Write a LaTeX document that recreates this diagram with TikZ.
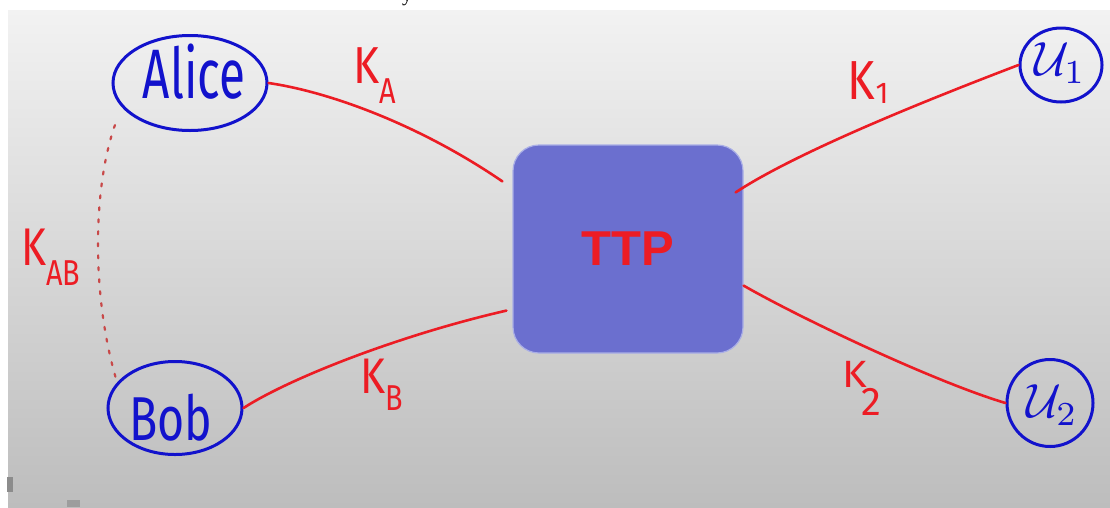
\documentclass[tikz,border=0pt]{standalone}
\usepackage{fontspec}
\setmainfont{Liberation Serif}
\newfontfamily\handfont{Fira Sans}
\newfontfamily\boxfont{Liberation Sans}
\usetikzlibrary{shapes.geometric,calc}

\definecolor{penblue}{HTML}{1212CC}
\definecolor{penred}{HTML}{EC1C24}
\definecolor{dotred}{HTML}{C84848}
\definecolor{ttpfill}{HTML}{6B6FCF}
\definecolor{ttpedge}{HTML}{A9AEE6}
\definecolor{slatetop}{HTML}{F2F2F2}
\definecolor{slatebottom}{HTML}{BDBDBD}
\definecolor{markgray}{HTML}{8C8C8C}

\begin{document}
\begin{tikzpicture}[x=1pt,y=-1pt,
  party/.style={ellipse, draw=penblue, line width=3pt, inner sep=0pt},
  partyname/.style={text=penblue, inner sep=0pt, anchor=base, font=\handfont},
  keyline/.style={draw=penred, line width=2.6pt, line cap=round},
  sharedkey/.style={draw=dotred, line width=2.2pt, line cap=round, dash pattern=on 3pt off 9pt},
  keylabel/.style={text=penred, inner sep=0pt, anchor=base west, font=\handfont},
  server/.style={rectangle, rounded corners=26pt, fill=ttpfill, draw=ttpedge, line width=1.2pt,
                 minimum width=230pt, minimum height=208pt, inner sep=0pt,
                 text=penred, font=\boxfont\bfseries\fontsize{49}{49}\selectfont}
]
\useasboundingbox (0,0) rectangle (1110,507);

% board background
\fill[white] (0,0) rectangle (1110,507);
\shade[top color=slatetop, bottom color=slatebottom] (8,10) rectangle (1110,507);
\begin{scope}
  \clip (0,0) rectangle (1110,10);
  \node[inner sep=0pt, anchor=base, font=\fontsize{20}{20}\selectfont] (ytail) at (407,1) {y};
\end{scope}
\fill[markgray] (7,477) rectangle (13,492);
\fill[markgray!85] (67,500) rectangle (80,507);

% trusted third party
\node[server] (ttp) at (628,249) {TTP};

% parties
\node[party, minimum width=154pt, minimum height=95pt] (alice) at (190,83) {};
\node[partyname] (alicename) at (194,98) {\fontsize{70}{70}\selectfont\scalebox{0.68}[1]{Alice}};

\node[party, minimum width=134pt, minimum height=93pt] (bob) at (175,408) {};
\node[partyname] (bobname) at (171,440) {\fontsize{62}{62}\selectfont\scalebox{0.75}[1]{Bob}};

\node[party, minimum width=82pt, minimum height=74pt] (u1) at (1061,65) {};
\node[text=penblue, inner sep=0pt] (u1name) at (1060,63) {\scalebox{4.8}{$\mathcal{U}_1$}};

\node[party, minimum width=86pt, minimum height=87pt] (u2) at (1050,403) {};
\node[text=penblue, inner sep=0pt] (u2name) at (1052,405) {\scalebox{4.8}{$\mathcal{U}_2$}};

% long-term keys shared with the TTP
\coordinate (ttpA) at ($(ttp.north west)+(-10,37)$);
\coordinate (ttpB) at ($(ttp.south west)+(-6,-43)$);
\coordinate (ttp1) at ($(ttp.north east)+(-8,48)$);
\coordinate (ttp2) at ($(ttp.south east)+(0,-68)$);

\draw[keyline] (alice.east) .. controls (330,92) and (420,125) .. (ttpA);
\draw[keyline] (bob.east) .. controls (290,378) and (400,335) .. (ttpB);
\draw[keyline] (ttp1) .. controls (800,150) and (940,95) .. (u1.west);
\draw[keyline] (ttp2) .. controls (800,318) and (935,382) .. (u2.west);

% session key between Alice and Bob
\coordinate (aliceend) at ($(alice.center)+(-75,42)$);
\coordinate (bobend) at ($(bob.center)+(-58,-26)$);
\draw[sharedkey] (aliceend) .. controls (92,190) and (92,300) .. (bobend);

% key labels
\node[keylabel] (kA) at (353,83) {\fontsize{52}{52}\selectfont\scalebox{0.85}[1]{K}\raisebox{-20pt}{\fontsize{36}{36}\selectfont\scalebox{0.8}[1]{A}}};
\node[keylabel] (kB) at (360,393) {\fontsize{50}{50}\selectfont\scalebox{0.85}[1]{K}\raisebox{-17pt}{\fontsize{36}{36}\selectfont\scalebox{0.8}[1]{B}}};
\node[keylabel] (k1) at (847,99) {\fontsize{55}{55}\selectfont\scalebox{0.85}[1]{K}\kern1pt\raisebox{-4pt}{\fontsize{30}{30}\selectfont 1}};
\node[keylabel] (k2) at (842,387) {\fontsize{38}{38}\selectfont\scalebox{1.1}[1]{K}\kern-5pt\raisebox{-28pt}{\fontsize{40}{40}\selectfont 2}};
\node[keylabel] (kAB) at (21,265) {\fontsize{53}{53}\selectfont\scalebox{0.8}[1]{K}\raisebox{-20pt}{\fontsize{36}{36}\selectfont\scalebox{0.8}[1]{AB}}};
\end{tikzpicture}
\end{document}
